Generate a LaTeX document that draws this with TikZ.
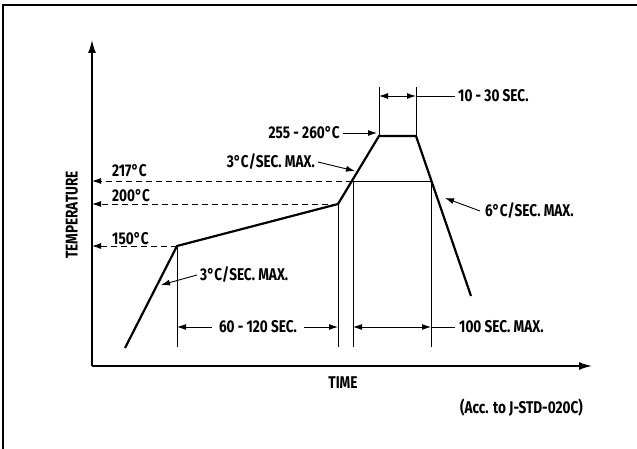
\documentclass[tikz,border=0pt]{standalone}
\usepackage{fontspec}
\setmainfont{Fira Sans}[FakeStretch=0.8]
\usetikzlibrary{arrows.meta}

\begin{document}
\begin{tikzpicture}[x=1pt,y=-1pt,
    every node/.style={font=\bfseries\fontsize{17}{17}\selectfont,inner sep=0pt},
    profile/.style={line width=2.2pt,line join=miter},
    guide/.style={line width=0.9pt},
    tip/.style={-{Latex[length=9pt,width=6pt]},line width=0.9pt},
    dim/.style={{Latex[length=9pt,width=6pt]}-{Latex[length=9pt,width=6pt]},line width=0.9pt}]
  \useasboundingbox (0,0) rectangle (637,449);
  % frame
  \draw[line width=2.5pt] (3,449) -- (3,5) -- (637,5);
  % axes
  \coordinate (o) at (92,366);
  \draw[line width=1.6pt,-{Latex[length=13pt,width=8pt]}] (o) -- (92,40);
  \draw[line width=1.6pt,-{Latex[length=13pt,width=8pt]}] (o) -- (592,366);
  \node[rotate=90] (temp) at (72,215) {TEMPERATURE};
  \node (time) at (343,383) {TIME};
  \node[anchor=east] (acc) at (583,408) {(Acc. to J-STD-020C)};
  % profile points
  \coordinate (start) at (125,348);
  \coordinate (p150) at (177,246);
  \coordinate (p200) at (338,204);
  \coordinate (pk1) at (379,136);
  \coordinate (pk2) at (416,136);
  \coordinate (stop) at (471,296);
  \coordinate (c217a) at (352,181);
  \coordinate (c217b) at (431,181);
  \draw[profile] (start) -- (p150) -- (p200) -- (pk1) -- (pk2) -- (stop);
  % temperature levels
  \draw[guide,dashed,dash pattern=on 6pt off 4pt,-{Latex[length=9pt,width=6pt]}] (c217a) -- (92,181);
  \draw[guide,dashed,dash pattern=on 6pt off 4pt,-{Latex[length=9pt,width=6pt]}] (p200) -- (92,204);
  \draw[guide,dashed,dash pattern=on 6pt off 4pt,-{Latex[length=9pt,width=6pt]}] (p150) -- (92,246);
  \draw[guide] (c217a) -- (c217b);
  \node[anchor=west] (t217) at (112,171) {217°C};
  \node[anchor=west] (t200) at (112,196) {200°C};
  \node[anchor=west] (t150) at (112,239) {150°C};
  % vertical guides
  \draw[guide] (p150) -- (177,347);
  \draw[guide] (p200) -- (338,347);
  \draw[guide] (353,181) -- (353,347);
  \draw[guide] (c217b) -- (431,347);
  \draw[guide] (pk1) -- (379,87);
  \draw[guide] (pk2) -- (416,87);
  % durations
  \node (soak) at (258,327) {60 - 120 SEC.};
  \draw[tip] (soak.west) ++(-7,0) -- (177,327);
  \draw[tip] (soak.east) ++(7,0) -- (338,327);
  \node[anchor=west] (above) at (459,327) {100 SEC. MAX.};
  \draw[dim] (353,327) -- (431,327);
  \draw[guide] (431,327) -- ([xshift=-4pt]above.west);
  \node[anchor=west] (peak) at (458,96) {10 - 30 SEC.};
  \draw[dim] (379,96) -- (416,96);
  \draw[guide] (416,96) -- ([xshift=-3pt]peak.west);
  % peak temperature and ramps
  \node[anchor=east] (tpk) at (340,133) {255 - 260°C};
  \draw[tip] ([xshift=3pt]tpk.east) -- (377,133);
  \node[anchor=east] (up) at (315,162) {3°C/SEC. MAX.};
  \draw[tip] ([xshift=3pt]up.east) -- (355,171);
  \node[anchor=west] (pre) at (200,275) {3°C/SEC. MAX.};
  \draw[tip] ([xshift=-3pt]pre.west) -- (161,285);
  \node[anchor=west] (down) at (485,211) {6°C/SEC. MAX.};
  \draw[tip] ([xshift=-5pt]down.west) -- (445,198);
\end{tikzpicture}
\end{document}
